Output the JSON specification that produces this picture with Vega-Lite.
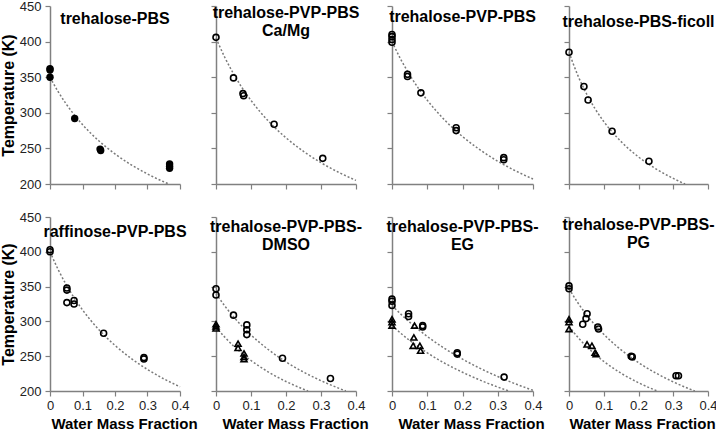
{
  "$schema": "https://vega.github.io/schema/vega-lite/v6.json",
  "padding": {"left": 0, "top": 0, "right": 0, "bottom": 0},
  "background": "white",
  "datasets": {
    "pts": [
      {"p": 1, "s": "circle", "x": 0, "T": 362}, {"p": 1, "s": "circle", "x": 0, "T": 360}, {"p": 1, "s": "circle", "x": 0, "T": 350},
      {"p": 1, "s": "circle", "x": 0.076, "T": 292}, {"p": 1, "s": "circle", "x": 0.154, "T": 249}, {"p": 1, "s": "circle", "x": 0.156, "T": 247},
      {"p": 1, "s": "circle", "x": 0.368, "T": 228}, {"p": 1, "s": "circle", "x": 0.368, "T": 225}, {"p": 1, "s": "circle", "x": 0.368, "T": 222},

      {"p": 2, "s": "circle", "x": 0, "T": 406}, {"p": 2, "s": "circle", "x": 0.05, "T": 349}, {"p": 2, "s": "circle", "x": 0.077, "T": 327},
      {"p": 2, "s": "circle", "x": 0.079, "T": 324}, {"p": 2, "s": "circle", "x": 0.166, "T": 284}, {"p": 2, "s": "circle", "x": 0.305, "T": 236},

      {"p": 3, "s": "circle", "x": 0, "T": 410}, {"p": 3, "s": "circle", "x": 0, "T": 407}, {"p": 3, "s": "circle", "x": 0, "T": 403}, {"p": 3, "s": "circle", "x": 0, "T": 399},
      {"p": 3, "s": "circle", "x": 0.044, "T": 354}, {"p": 3, "s": "circle", "x": 0.044, "T": 351}, {"p": 3, "s": "circle", "x": 0.082, "T": 328},
      {"p": 3, "s": "circle", "x": 0.182, "T": 279}, {"p": 3, "s": "circle", "x": 0.182, "T": 275}, {"p": 3, "s": "circle", "x": 0.317, "T": 237}, {"p": 3, "s": "circle", "x": 0.317, "T": 234},

      {"p": 4, "s": "circle", "x": 0, "T": 385}, {"p": 4, "s": "circle", "x": 0.043, "T": 337}, {"p": 4, "s": "circle", "x": 0.055, "T": 318},
      {"p": 4, "s": "circle", "x": 0.124, "T": 274}, {"p": 4, "s": "circle", "x": 0.23, "T": 232},

      {"p": 5, "s": "circle", "x": 0, "T": 403}, {"p": 5, "s": "circle", "x": 0, "T": 400}, {"p": 5, "s": "circle", "x": 0.052, "T": 348},
      {"p": 5, "s": "circle", "x": 0.052, "T": 345}, {"p": 5, "s": "circle", "x": 0.052, "T": 327}, {"p": 5, "s": "circle", "x": 0.074, "T": 330},
      {"p": 5, "s": "circle", "x": 0.074, "T": 325}, {"p": 5, "s": "circle", "x": 0.165, "T": 283}, {"p": 5, "s": "circle", "x": 0.289, "T": 248}, {"p": 5, "s": "circle", "x": 0.289, "T": 246},

      {"p": 6, "s": "circle", "x": 0, "T": 347}, {"p": 6, "s": "circle", "x": 0, "T": 338}, {"p": 6, "s": "circle", "x": 0.05, "T": 309},
      {"p": 6, "s": "circle", "x": 0.088, "T": 295}, {"p": 6, "s": "circle", "x": 0.088, "T": 288}, {"p": 6, "s": "circle", "x": 0.088, "T": 281},
      {"p": 6, "s": "circle", "x": 0.19, "T": 247}, {"p": 6, "s": "circle", "x": 0.327, "T": 218},
      {"p": 6, "s": "triangle", "x": 0, "T": 296}, {"p": 6, "s": "triangle", "x": 0, "T": 293}, {"p": 6, "s": "triangle", "x": 0, "T": 290},
      {"p": 6, "s": "triangle", "x": 0.063, "T": 268}, {"p": 6, "s": "triangle", "x": 0.063, "T": 262}, {"p": 6, "s": "triangle", "x": 0.08, "T": 254},
      {"p": 6, "s": "triangle", "x": 0.08, "T": 249}, {"p": 6, "s": "triangle", "x": 0.08, "T": 246},

      {"p": 7, "s": "circle", "x": 0, "T": 332}, {"p": 7, "s": "circle", "x": 0, "T": 329}, {"p": 7, "s": "circle", "x": 0, "T": 323},
      {"p": 7, "s": "circle", "x": 0.047, "T": 311}, {"p": 7, "s": "circle", "x": 0.047, "T": 307}, {"p": 7, "s": "circle", "x": 0.087, "T": 294},
      {"p": 7, "s": "circle", "x": 0.087, "T": 292}, {"p": 7, "s": "circle", "x": 0.185, "T": 255}, {"p": 7, "s": "circle", "x": 0.185, "T": 253}, {"p": 7, "s": "circle", "x": 0.318, "T": 220},
      {"p": 7, "s": "triangle", "x": 0, "T": 303}, {"p": 7, "s": "triangle", "x": 0, "T": 299}, {"p": 7, "s": "triangle", "x": 0, "T": 294},
      {"p": 7, "s": "triangle", "x": 0.064, "T": 294}, {"p": 7, "s": "triangle", "x": 0.062, "T": 277}, {"p": 7, "s": "triangle", "x": 0.06, "T": 265},
      {"p": 7, "s": "triangle", "x": 0.079, "T": 265}, {"p": 7, "s": "triangle", "x": 0.081, "T": 258},

      {"p": 8, "s": "circle", "x": 0, "T": 351}, {"p": 8, "s": "circle", "x": 0, "T": 347}, {"p": 8, "s": "circle", "x": 0.0395, "T": 296},
      {"p": 8, "s": "circle", "x": 0.049, "T": 304}, {"p": 8, "s": "circle", "x": 0.052, "T": 311}, {"p": 8, "s": "circle", "x": 0.083, "T": 292},
      {"p": 8, "s": "circle", "x": 0.085, "T": 289}, {"p": 8, "s": "circle", "x": 0.179, "T": 250}, {"p": 8, "s": "circle", "x": 0.182, "T": 249},
      {"p": 8, "s": "circle", "x": 0.308, "T": 222}, {"p": 8, "s": "circle", "x": 0.315, "T": 222},
      {"p": 8, "s": "triangle", "x": 0, "T": 303}, {"p": 8, "s": "triangle", "x": 0, "T": 299}, {"p": 8, "s": "triangle", "x": 0, "T": 289},
      {"p": 8, "s": "triangle", "x": 0.052, "T": 267}, {"p": 8, "s": "triangle", "x": 0.066, "T": 265}, {"p": 8, "s": "triangle", "x": 0.075, "T": 255}, {"p": 8, "s": "triangle", "x": 0.078, "T": 253}
    ],
    "fit": [
      {"p": 1, "c": "a", "x": 0, "T": 350}, {"p": 1, "c": "a", "x": 0.025, "T": 329.8}, {"p": 1, "c": "a", "x": 0.05, "T": 312.3}, {"p": 1, "c": "a", "x": 0.075, "T": 297.0},
      {"p": 1, "c": "a", "x": 0.1, "T": 283.5}, {"p": 1, "c": "a", "x": 0.15, "T": 260.7}, {"p": 1, "c": "a", "x": 0.2, "T": 242.2}, {"p": 1, "c": "a", "x": 0.25, "T": 226.9},
      {"p": 1, "c": "a", "x": 0.3, "T": 214.1}, {"p": 1, "c": "a", "x": 0.35, "T": 203.1}, {"p": 1, "c": "a", "x": 0.366, "T": 200},

      {"p": 2, "c": "a", "x": 0, "T": 405}, {"p": 2, "c": "a", "x": 0.025, "T": 378.0}, {"p": 2, "c": "a", "x": 0.05, "T": 354.9}, {"p": 2, "c": "a", "x": 0.075, "T": 334.8},
      {"p": 2, "c": "a", "x": 0.1, "T": 317.4}, {"p": 2, "c": "a", "x": 0.15, "T": 288.2}, {"p": 2, "c": "a", "x": 0.2, "T": 264.9}, {"p": 2, "c": "a", "x": 0.25, "T": 245.8},
      {"p": 2, "c": "a", "x": 0.3, "T": 229.9}, {"p": 2, "c": "a", "x": 0.35, "T": 216.5}, {"p": 2, "c": "a", "x": 0.4, "T": 205.0},

      {"p": 3, "c": "a", "x": 0, "T": 400}, {"p": 3, "c": "a", "x": 0.025, "T": 375.0}, {"p": 3, "c": "a", "x": 0.05, "T": 353.3}, {"p": 3, "c": "a", "x": 0.075, "T": 334.4},
      {"p": 3, "c": "a", "x": 0.1, "T": 317.7}, {"p": 3, "c": "a", "x": 0.15, "T": 289.5}, {"p": 3, "c": "a", "x": 0.2, "T": 266.7}, {"p": 3, "c": "a", "x": 0.25, "T": 247.9},
      {"p": 3, "c": "a", "x": 0.3, "T": 232.0}, {"p": 3, "c": "a", "x": 0.35, "T": 218.6}, {"p": 3, "c": "a", "x": 0.4, "T": 207.0},

      {"p": 4, "c": "a", "x": 0, "T": 385}, {"p": 4, "c": "a", "x": 0.025, "T": 353.0}, {"p": 4, "c": "a", "x": 0.05, "T": 327.1}, {"p": 4, "c": "a", "x": 0.075, "T": 305.7},
      {"p": 4, "c": "a", "x": 0.1, "T": 287.8}, {"p": 4, "c": "a", "x": 0.15, "T": 259.5}, {"p": 4, "c": "a", "x": 0.2, "T": 238.0}, {"p": 4, "c": "a", "x": 0.25, "T": 221.3},
      {"p": 4, "c": "a", "x": 0.3, "T": 207.8}, {"p": 4, "c": "a", "x": 0.334, "T": 200},

      {"p": 5, "c": "a", "x": 0, "T": 400}, {"p": 5, "c": "a", "x": 0.025, "T": 374.6}, {"p": 5, "c": "a", "x": 0.05, "T": 352.6}, {"p": 5, "c": "a", "x": 0.075, "T": 333.4},
      {"p": 5, "c": "a", "x": 0.1, "T": 316.6}, {"p": 5, "c": "a", "x": 0.15, "T": 288.3}, {"p": 5, "c": "a", "x": 0.2, "T": 265.5}, {"p": 5, "c": "a", "x": 0.25, "T": 246.7},
      {"p": 5, "c": "a", "x": 0.3, "T": 230.9}, {"p": 5, "c": "a", "x": 0.35, "T": 217.5}, {"p": 5, "c": "a", "x": 0.4, "T": 206.0},

      {"p": 6, "c": "a", "x": 0, "T": 340}, {"p": 6, "c": "a", "x": 0.025, "T": 322.3}, {"p": 6, "c": "a", "x": 0.05, "T": 306.7}, {"p": 6, "c": "a", "x": 0.075, "T": 292.8},
      {"p": 6, "c": "a", "x": 0.1, "T": 280.5}, {"p": 6, "c": "a", "x": 0.15, "T": 259.3}, {"p": 6, "c": "a", "x": 0.2, "T": 241.8}, {"p": 6, "c": "a", "x": 0.25, "T": 227.2},
      {"p": 6, "c": "a", "x": 0.3, "T": 214.8}, {"p": 6, "c": "a", "x": 0.35, "T": 204.1}, {"p": 6, "c": "a", "x": 0.371, "T": 200},
      {"p": 6, "c": "b", "x": 0, "T": 292}, {"p": 6, "c": "b", "x": 0.025, "T": 277.4}, {"p": 6, "c": "b", "x": 0.05, "T": 264.7}, {"p": 6, "c": "b", "x": 0.075, "T": 253.6},
      {"p": 6, "c": "b", "x": 0.1, "T": 243.8}, {"p": 6, "c": "b", "x": 0.15, "T": 227.2}, {"p": 6, "c": "b", "x": 0.2, "T": 213.7}, {"p": 6, "c": "b", "x": 0.25, "T": 202.6},
      {"p": 6, "c": "b", "x": 0.263, "T": 200},

      {"p": 7, "c": "a", "x": 0, "T": 323}, {"p": 7, "c": "a", "x": 0.025, "T": 310.4}, {"p": 7, "c": "a", "x": 0.05, "T": 298.9}, {"p": 7, "c": "a", "x": 0.075, "T": 288.3},
      {"p": 7, "c": "a", "x": 0.1, "T": 278.4}, {"p": 7, "c": "a", "x": 0.15, "T": 260.9}, {"p": 7, "c": "a", "x": 0.2, "T": 245.8}, {"p": 7, "c": "a", "x": 0.25, "T": 232.5},
      {"p": 7, "c": "a", "x": 0.3, "T": 220.8}, {"p": 7, "c": "a", "x": 0.35, "T": 210.3}, {"p": 7, "c": "a", "x": 0.4, "T": 201.0},
      {"p": 7, "c": "b", "x": 0, "T": 294}, {"p": 7, "c": "b", "x": 0.025, "T": 282.9}, {"p": 7, "c": "b", "x": 0.05, "T": 272.7}, {"p": 7, "c": "b", "x": 0.075, "T": 263.5},
      {"p": 7, "c": "b", "x": 0.1, "T": 254.9}, {"p": 7, "c": "b", "x": 0.15, "T": 239.8}, {"p": 7, "c": "b", "x": 0.2, "T": 226.9}, {"p": 7, "c": "b", "x": 0.25, "T": 215.6},
      {"p": 7, "c": "b", "x": 0.3, "T": 205.7}, {"p": 7, "c": "b", "x": 0.332, "T": 200},

      {"p": 8, "c": "a", "x": 0, "T": 347}, {"p": 8, "c": "a", "x": 0.025, "T": 327.1}, {"p": 8, "c": "a", "x": 0.05, "T": 309.9}, {"p": 8, "c": "a", "x": 0.075, "T": 294.8},
      {"p": 8, "c": "a", "x": 0.1, "T": 281.5}, {"p": 8, "c": "a", "x": 0.15, "T": 259.1}, {"p": 8, "c": "a", "x": 0.2, "T": 240.8}, {"p": 8, "c": "a", "x": 0.25, "T": 225.8},
      {"p": 8, "c": "a", "x": 0.3, "T": 213.1}, {"p": 8, "c": "a", "x": 0.35, "T": 202.3}, {"p": 8, "c": "a", "x": 0.362, "T": 200},
      {"p": 8, "c": "b", "x": 0, "T": 293}, {"p": 8, "c": "b", "x": 0.025, "T": 277.5}, {"p": 8, "c": "b", "x": 0.05, "T": 264.2}, {"p": 8, "c": "b", "x": 0.075, "T": 252.6},
      {"p": 8, "c": "b", "x": 0.1, "T": 242.5}, {"p": 8, "c": "b", "x": 0.15, "T": 225.5}, {"p": 8, "c": "b", "x": 0.2, "T": 211.9}, {"p": 8, "c": "b", "x": 0.25, "T": 200.8},
      {"p": 8, "c": "b", "x": 0.254, "T": 200}
    ]
  },
  "columns": 4,
  "align": "each",
  "bounds": "flush",
  "spacing": {"row": 33, "column": 36},
  "concat": [
    {
      "width": 130, "height": 178,
      "title": {"text": "trehalose-PBS", "offset": -27},
      "encoding": {
        "x": {"field": "x", "type": "quantitative", "scale": {"domain": [0, 0.4], "nice": false}, "axis": {"values": [0, 0.1, 0.2, 0.3, 0.4], "labels": false, "title": null}},
        "y": {"field": "T", "type": "quantitative", "scale": {"domain": [200, 450], "nice": false}, "axis": {"values": [200, 250, 300, 350, 400, 450], "title": "Temperature (K)"}}
      },
      "layer": [
        {"data": {"name": "fit"}, "transform": [{"filter": "datum.p == 1"}], "mark": {"type": "line", "color": "#7a7a7a", "strokeWidth": 1.5, "strokeDash": [2, 2], "interpolate": "monotone"}, "encoding": {"detail": {"field": "c"}}},
        {"data": {"name": "pts"}, "transform": [{"filter": "datum.p == 1"}], "mark": {"type": "point", "filled": true, "color": "#000", "size": 55, "opacity": 1}, "encoding": {"shape": {"field": "s", "type": "nominal", "scale": {"domain": ["circle", "triangle"], "range": ["circle", "triangle-up"]}, "legend": null}}}
      ]
    },
    {
      "width": 140, "height": 178,
      "title": {"text": ["trehalose-PVP-PBS", "Ca/Mg"], "offset": -34},
      "encoding": {
        "x": {"field": "x", "type": "quantitative", "scale": {"domain": [0, 0.4], "nice": false}, "axis": {"values": [0, 0.1, 0.2, 0.3, 0.4], "labels": false, "title": null}},
        "y": {"field": "T", "type": "quantitative", "scale": {"domain": [200, 450], "nice": false}, "axis": {"values": [200, 250, 300, 350, 400, 450], "labels": false, "title": null}}
      },
      "layer": [
        {"data": {"name": "fit"}, "transform": [{"filter": "datum.p == 2"}], "mark": {"type": "line", "color": "#7a7a7a", "strokeWidth": 1.5, "strokeDash": [2, 2], "interpolate": "monotone"}, "encoding": {"detail": {"field": "c"}}},
        {"data": {"name": "pts"}, "transform": [{"filter": "datum.p == 2"}], "mark": {"type": "point", "filled": false, "color": "#000", "size": 36, "strokeWidth": 1.6, "opacity": 1}, "encoding": {"shape": {"field": "s", "type": "nominal", "scale": {"domain": ["circle", "triangle"], "range": ["circle", "triangle-up"]}, "legend": null}}}
      ]
    },
    {
      "width": 141, "height": 178,
      "title": {"text": "trehalose-PVP-PBS", "offset": -20},
      "encoding": {
        "x": {"field": "x", "type": "quantitative", "scale": {"domain": [0, 0.4], "nice": false}, "axis": {"values": [0, 0.1, 0.2, 0.3, 0.4], "labels": false, "title": null}},
        "y": {"field": "T", "type": "quantitative", "scale": {"domain": [200, 450], "nice": false}, "axis": {"values": [200, 250, 300, 350, 400, 450], "labels": false, "title": null}}
      },
      "layer": [
        {"data": {"name": "fit"}, "transform": [{"filter": "datum.p == 3"}], "mark": {"type": "line", "color": "#7a7a7a", "strokeWidth": 1.5, "strokeDash": [2, 2], "interpolate": "monotone"}, "encoding": {"detail": {"field": "c"}}},
        {"data": {"name": "pts"}, "transform": [{"filter": "datum.p == 3"}], "mark": {"type": "point", "filled": false, "color": "#000", "size": 36, "strokeWidth": 1.6, "opacity": 1}, "encoding": {"shape": {"field": "s", "type": "nominal", "scale": {"domain": ["circle", "triangle"], "range": ["circle", "triangle-up"]}, "legend": null}}}
      ]
    },
    {
      "width": 139, "height": 178,
      "title": {"text": "trehalose-PBS-ficoll", "offset": -25},
      "encoding": {
        "x": {"field": "x", "type": "quantitative", "scale": {"domain": [0, 0.4], "nice": false}, "axis": {"values": [0, 0.1, 0.2, 0.3, 0.4], "labels": false, "title": null}},
        "y": {"field": "T", "type": "quantitative", "scale": {"domain": [200, 450], "nice": false}, "axis": {"values": [200, 250, 300, 350, 400, 450], "labels": false, "title": null}}
      },
      "layer": [
        {"data": {"name": "fit"}, "transform": [{"filter": "datum.p == 4"}], "mark": {"type": "line", "color": "#7a7a7a", "strokeWidth": 1.5, "strokeDash": [2, 2], "interpolate": "monotone"}, "encoding": {"detail": {"field": "c"}}},
        {"data": {"name": "pts"}, "transform": [{"filter": "datum.p == 4"}], "mark": {"type": "point", "filled": false, "color": "#000", "size": 36, "strokeWidth": 1.6, "opacity": 1}, "encoding": {"shape": {"field": "s", "type": "nominal", "scale": {"domain": ["circle", "triangle"], "range": ["circle", "triangle-up"]}, "legend": null}}}
      ]
    },
    {
      "width": 130, "height": 174,
      "title": {"text": "raffinose-PVP-PBS", "offset": -29},
      "encoding": {
        "x": {"field": "x", "type": "quantitative", "scale": {"domain": [0, 0.4], "nice": false}, "axis": {"values": [0, 0.1, 0.2, 0.3, 0.4], "format": "~g", "title": "Water Mass Fraction", "titleX": 74}},
        "y": {"field": "T", "type": "quantitative", "scale": {"domain": [200, 450], "nice": false}, "axis": {"values": [200, 250, 300, 350, 400, 450], "title": "Temperature (K)"}}
      },
      "layer": [
        {"data": {"name": "fit"}, "transform": [{"filter": "datum.p == 5"}], "mark": {"type": "line", "color": "#7a7a7a", "strokeWidth": 1.5, "strokeDash": [2, 2], "interpolate": "monotone"}, "encoding": {"detail": {"field": "c"}}},
        {"data": {"name": "pts"}, "transform": [{"filter": "datum.p == 5"}], "mark": {"type": "point", "filled": false, "color": "#000", "size": 36, "strokeWidth": 1.6, "opacity": 1}, "encoding": {"shape": {"field": "s", "type": "nominal", "scale": {"domain": ["circle", "triangle"], "range": ["circle", "triangle-up"]}, "legend": null}}}
      ]
    },
    {
      "width": 140, "height": 174,
      "title": {"text": ["trehalose-PVP-PBS-", "DMSO"], "offset": -37},
      "encoding": {
        "x": {"field": "x", "type": "quantitative", "scale": {"domain": [0, 0.4], "nice": false}, "axis": {"values": [0, 0.1, 0.2, 0.3, 0.4], "format": "~g", "title": "Water Mass Fraction", "titleX": 79}},
        "y": {"field": "T", "type": "quantitative", "scale": {"domain": [200, 450], "nice": false}, "axis": {"values": [200, 250, 300, 350, 400, 450], "labels": false, "title": null}}
      },
      "layer": [
        {"data": {"name": "fit"}, "transform": [{"filter": "datum.p == 6"}], "mark": {"type": "line", "color": "#7a7a7a", "strokeWidth": 1.5, "strokeDash": [2, 2], "interpolate": "monotone"}, "encoding": {"detail": {"field": "c"}}},
        {"data": {"name": "pts"}, "transform": [{"filter": "datum.p == 6"}], "mark": {"type": "point", "filled": false, "color": "#000", "size": 36, "strokeWidth": 1.6, "opacity": 1}, "encoding": {"shape": {"field": "s", "type": "nominal", "scale": {"domain": ["circle", "triangle"], "range": ["circle", "triangle-up"]}, "legend": null}}}
      ]
    },
    {
      "width": 141, "height": 174,
      "title": {"text": ["trehalose-PVP-PBS-", "EG"], "offset": -37},
      "encoding": {
        "x": {"field": "x", "type": "quantitative", "scale": {"domain": [0, 0.4], "nice": false}, "axis": {"values": [0, 0.1, 0.2, 0.3, 0.4], "format": "~g", "title": "Water Mass Fraction", "titleX": 79}},
        "y": {"field": "T", "type": "quantitative", "scale": {"domain": [200, 450], "nice": false}, "axis": {"values": [200, 250, 300, 350, 400, 450], "labels": false, "title": null}}
      },
      "layer": [
        {"data": {"name": "fit"}, "transform": [{"filter": "datum.p == 7"}], "mark": {"type": "line", "color": "#7a7a7a", "strokeWidth": 1.5, "strokeDash": [2, 2], "interpolate": "monotone"}, "encoding": {"detail": {"field": "c"}}},
        {"data": {"name": "pts"}, "transform": [{"filter": "datum.p == 7"}], "mark": {"type": "point", "filled": false, "color": "#000", "size": 36, "strokeWidth": 1.6, "opacity": 1}, "encoding": {"shape": {"field": "s", "type": "nominal", "scale": {"domain": ["circle", "triangle"], "range": ["circle", "triangle-up"]}, "legend": null}}}
      ]
    },
    {
      "width": 139, "height": 174,
      "title": {"text": ["trehalose-PVP-PBS-", "PG"], "offset": -35},
      "encoding": {
        "x": {"field": "x", "type": "quantitative", "scale": {"domain": [0, 0.4], "nice": false}, "axis": {"values": [0, 0.1, 0.2, 0.3, 0.4], "format": "~g", "title": "Water Mass Fraction", "titleX": 73}},
        "y": {"field": "T", "type": "quantitative", "scale": {"domain": [200, 450], "nice": false}, "axis": {"values": [200, 250, 300, 350, 400, 450], "labels": false, "title": null}}
      },
      "layer": [
        {"data": {"name": "fit"}, "transform": [{"filter": "datum.p == 8"}], "mark": {"type": "line", "color": "#7a7a7a", "strokeWidth": 1.5, "strokeDash": [2, 2], "interpolate": "monotone"}, "encoding": {"detail": {"field": "c"}}},
        {"data": {"name": "pts"}, "transform": [{"filter": "datum.p == 8"}], "mark": {"type": "point", "filled": false, "color": "#000", "size": 36, "strokeWidth": 1.6, "opacity": 1}, "encoding": {"shape": {"field": "s", "type": "nominal", "scale": {"domain": ["circle", "triangle"], "range": ["circle", "triangle-up"]}, "legend": null}}}
      ]
    }
  ],
  "config": {
    "view": {"stroke": null},
    "font": "Liberation Sans",
    "axis": {
      "grid": false, "domainColor": "#808080", "domainWidth": 1.5, "tickColor": "#808080", "tickWidth": 1.2, "tickSize": 5,
      "labelFont": "Liberation Sans", "labelFontSize": 13, "labelColor": "#222", "labelFlush": false, "labelOverlap": false,
      "titleFont": "Liberation Sans", "titleFontWeight": "bold", "titleColor": "#000"
    },
    "axisX": {"labelPadding": 3, "titleFontSize": 15, "titlePadding": 4},
    "axisY": {"labelPadding": 4, "titleFontSize": 16, "titlePadding": 3},
    "title": {"font": "Liberation Sans", "fontSize": 16, "fontWeight": "bold", "color": "#000", "anchor": "middle", "frame": "group", "baseline": "top", "lineHeight": 18}
  }
}
